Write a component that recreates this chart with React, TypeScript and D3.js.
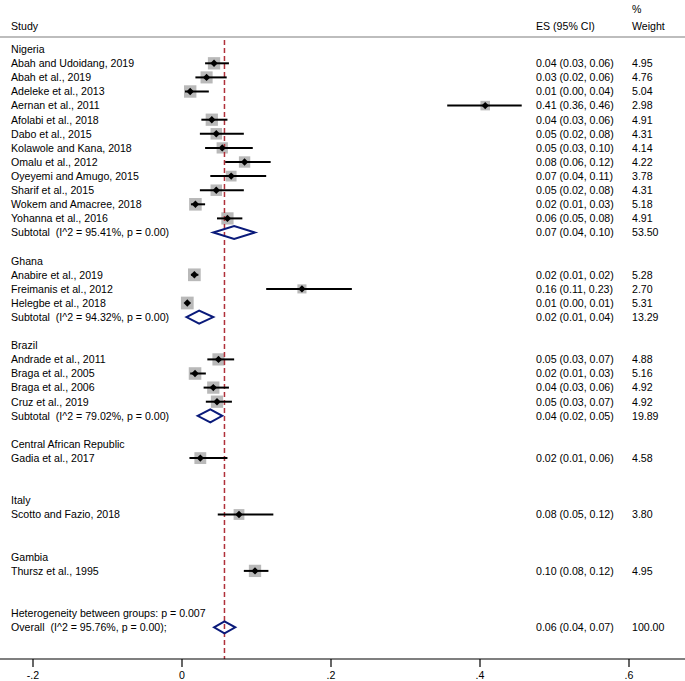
import React from "react";
import * as d3 from "d3";

// ---------- DATA ----------
const groups = ["Nigeria", "Ghana", "Brazil", "Central African Republic", "Italy", "Gambia"];

const studyNames = [
  "Abah and Udoidang, 2019", "Abah et al., 2019", "Adeleke et al., 2013", "Aernan et al., 2011",
  "Afolabi et al., 2018", "Dabo et al., 2015", "Kolawole and Kana, 2018", "Omalu et al., 2012",
  "Oyeyemi and Amugo, 2015", "Sharif et al., 2015", "Wokem and Amacree, 2018", "Yohanna et al., 2016",
  "Anabire et al., 2019", "Freimanis et al., 2012", "Helegbe et al., 2018",
  "Andrade et al., 2011", "Braga et al., 2005", "Braga et al., 2006", "Cruz et al., 2019",
  "Gadia et al., 2017",
  "Scotto and Fazio, 2018",
  "Thursz et al., 1995",
];
const studyGroup = [0,0,0,0,0,0,0,0,0,0,0,0, 1,1,1, 2,2,2,2, 3, 4, 5];
const studyES = [0.043, 0.033, 0.011, 0.407, 0.040, 0.046, 0.054, 0.084, 0.066, 0.046, 0.018, 0.061,
  0.0166, 0.161, 0.0071, 0.049, 0.0175, 0.042, 0.047, 0.0246, 0.0765, 0.098];
const studyLo = [0.031, 0.018, 0.004, 0.356, 0.026, 0.024, 0.031, 0.058, 0.038, 0.024, 0.012, 0.047,
  0.012, 0.113, 0.004, 0.034, 0.011, 0.029, 0.032, 0.010, 0.048, 0.083];
const studyHi = [0.063, 0.060, 0.036, 0.456, 0.061, 0.083, 0.095, 0.119, 0.113, 0.083, 0.031, 0.081,
  0.022, 0.228, 0.011, 0.070, 0.032, 0.063, 0.067, 0.061, 0.1226, 0.116];
const studyW = [4.95, 4.76, 5.04, 2.98, 4.91, 4.31, 4.14, 4.22, 3.78, 4.31, 5.18, 4.91,
  5.28, 2.70, 5.31, 4.88, 5.16, 4.92, 4.92, 4.58, 3.80, 4.95];

// subtotals (null for single-study groups)
const subES = [0.070, 0.023, 0.038, null, null, null];
const subLo = [0.042, 0.006, 0.021, null, null, null];
const subHi = [0.098, 0.042, 0.054, null, null, null];
const subW = [53.50, 13.29, 19.89, null, null, null];
const subI2 = ["95.41%", "94.32%", "79.02%", null, null, null];
const subP = ["0.00", "0.00", "0.00", null, null, null];

const heterogeneityP = "0.007";
const overallES = 0.057;
const overallLo = 0.043;
const overallHi = 0.0715;
const overallW = 100.0;
const overallI2 = "95.76%";
const overallP = "0.00";

const xTicks = [-0.2, 0, 0.2, 0.4, 0.6];

// ---------- LAYOUT ----------
const W = 685;
const H = 681;
const row0 = 49.2;
const rowStep = 14.1;
const labelX = 11;
const esX = 536;
const wX = 632;
const axisY = 659;
const FONT = "'Liberation Sans', Arial, Helvetica, sans-serif";
const FS = 10.6;

type Row =
  | { kind: "group"; label: string }
  | { kind: "study"; i: number }
  | { kind: "sub"; g: number }
  | { kind: "blank" }
  | { kind: "het" }
  | { kind: "overall" };

function buildRows(): Row[] {
  const rows: Row[] = [];
  groups.forEach((g, gi) => {
    rows.push({ kind: "group", label: g });
    studyNames.forEach((_, i) => {
      if (studyGroup[i] === gi) rows.push({ kind: "study", i });
    });
    if (subES[gi] != null) rows.push({ kind: "sub", g: gi });
    else rows.push({ kind: "blank" });
    rows.push({ kind: "blank" });
  });
  rows.push({ kind: "het" });
  rows.push({ kind: "overall" });
  return rows;
}

const f2 = (v: number) => v.toFixed(2);
const ciText = (e: number, l: number, h: number) => `${f2(e)} (${f2(l)}, ${f2(h)})`;
const tickFmt = (v: number) => {
  if (v === 0) return "0";
  const s = String(Math.abs(+v.toFixed(2))).replace(/^0/, "");
  return (v < 0 ? "-" : "") + s;
};

export default function App() {
  const x = d3.scaleLinear().domain([-0.2, 0.6]).range([33, 629]);
  const rows = buildRows();
  const y = (r: number) => row0 + r * rowStep;
  const boxSide = (w: number) => 5.53 * Math.sqrt(w);

  const textProps = { fontFamily: FONT, fontSize: FS, fill: "#000" } as const;

  const boxes: React.ReactNode[] = [];
  const cis: React.ReactNode[] = [];
  const markers: React.ReactNode[] = [];
  const diamonds: React.ReactNode[] = [];
  const texts: React.ReactNode[] = [];

  const diamondPath = (cy: number, l: number, c: number, h: number, hh: number) =>
    `M${x(l)},${cy} L${x(c)},${cy - hh} L${x(h)},${cy} L${x(c)},${cy + hh} Z`;

  rows.forEach((r, ri) => {
    const cy = y(ri);
    const ty = cy + 3.8;
    if (r.kind === "group") {
      texts.push(<text key={"t" + ri} x={labelX} y={ty} {...textProps}>{r.label}</text>);
    } else if (r.kind === "study") {
      const i = r.i;
      const s = boxSide(studyW[i]);
      const cx = x(studyES[i]);
      boxes.push(<rect key={"b" + ri} x={cx - s / 2} y={cy - s / 2} width={s} height={s} fill="#b9b9b9" />);
      cis.push(<line key={"c" + ri} x1={x(studyLo[i])} x2={x(studyHi[i])} y1={cy} y2={cy} stroke="#000" strokeWidth={2} />);
      const m = 3.7;
      markers.push(<path key={"m" + ri} d={`M${cx - m},${cy} L${cx},${cy - m} L${cx + m},${cy} L${cx},${cy + m} Z`} fill="#000" />);
      texts.push(<text key={"t" + ri} x={labelX} y={ty} {...textProps}>{studyNames[i]}</text>);
      texts.push(<text key={"e" + ri} x={esX} y={ty} {...textProps}>{ciText(studyES[i], studyLo[i], studyHi[i])}</text>);
      texts.push(<text key={"w" + ri} x={wX} y={ty} {...textProps}>{f2(studyW[i])}</text>);
    } else if (r.kind === "sub") {
      const g = r.g;
      const e = subES[g] as number, l = subLo[g] as number, h = subHi[g] as number;
      diamonds.push(<path key={"d" + ri} d={diamondPath(cy, l, e, h, 6.5)} fill="none" stroke="#0a1a7a" strokeWidth={2} />);
      texts.push(<text key={"t" + ri} x={labelX} y={ty} {...textProps} style={{ whiteSpace: "pre" }}>{`Subtotal  (I^2 = ${subI2[g]}, p = ${subP[g]})`}</text>);
      texts.push(<text key={"e" + ri} x={esX} y={ty} {...textProps}>{ciText(e, l, h)}</text>);
      texts.push(<text key={"w" + ri} x={wX} y={ty} {...textProps}>{f2(subW[g] as number)}</text>);
    } else if (r.kind === "het") {
      texts.push(<text key={"t" + ri} x={labelX} y={ty} {...textProps}>{`Heterogeneity between groups: p = ${heterogeneityP}`}</text>);
    } else if (r.kind === "overall") {
      diamonds.push(<path key={"d" + ri} d={diamondPath(cy, overallLo, overallES, overallHi, 6)} fill="none" stroke="#0a1a7a" strokeWidth={2} />);
      texts.push(<text key={"t" + ri} x={labelX} y={ty} {...textProps} style={{ whiteSpace: "pre" }}>{`Overall  (I^2 = ${overallI2}, p = ${overallP});`}</text>);
      texts.push(<text key={"e" + ri} x={esX} y={ty} {...textProps}>{ciText(overallES, overallLo, overallHi)}</text>);
      texts.push(<text key={"w" + ri} x={wX} y={ty} {...textProps}>{f2(overallW)}</text>);
    }
  });

  return (
    <svg width={W} height={H} style={{ position: "absolute", left: 0, top: 0, background: "#fff" }}>
      <rect x={0} y={0} width={W} height={H} fill="#fff" />
      {/* header */}
      <text x={labelX} y={30} {...textProps}>Study</text>
      <text x={esX} y={30} {...textProps}>ES (95% CI)</text>
      <text x={wX} y={13} {...textProps}>%</text>
      <text x={wX} y={30} {...textProps}>Weight</text>
      <line x1={0} x2={W} y1={37} y2={37} stroke="#bdbdbd" strokeWidth={2} />

      {boxes}
      <line x1={x(overallES)} x2={x(overallES)} y1={40} y2={axisY} stroke="#b0303a" strokeWidth={1.5} strokeDasharray="5,3" />
      {cis}
      {markers}
      {diamonds}
      {texts}

      {/* axis */}
      <line x1={0} x2={W} y1={axisY} y2={axisY} stroke="#000" strokeWidth={1.2} />
      {xTicks.map((t) => (
        <g key={t}>
          <line x1={x(t)} x2={x(t)} y1={axisY} y2={axisY + 8} stroke="#000" strokeWidth={1.2} />
          <text x={x(t)} y={axisY + 20} textAnchor="middle" {...textProps}>{tickFmt(t)}</text>
        </g>
      ))}
    </svg>
  );
}
